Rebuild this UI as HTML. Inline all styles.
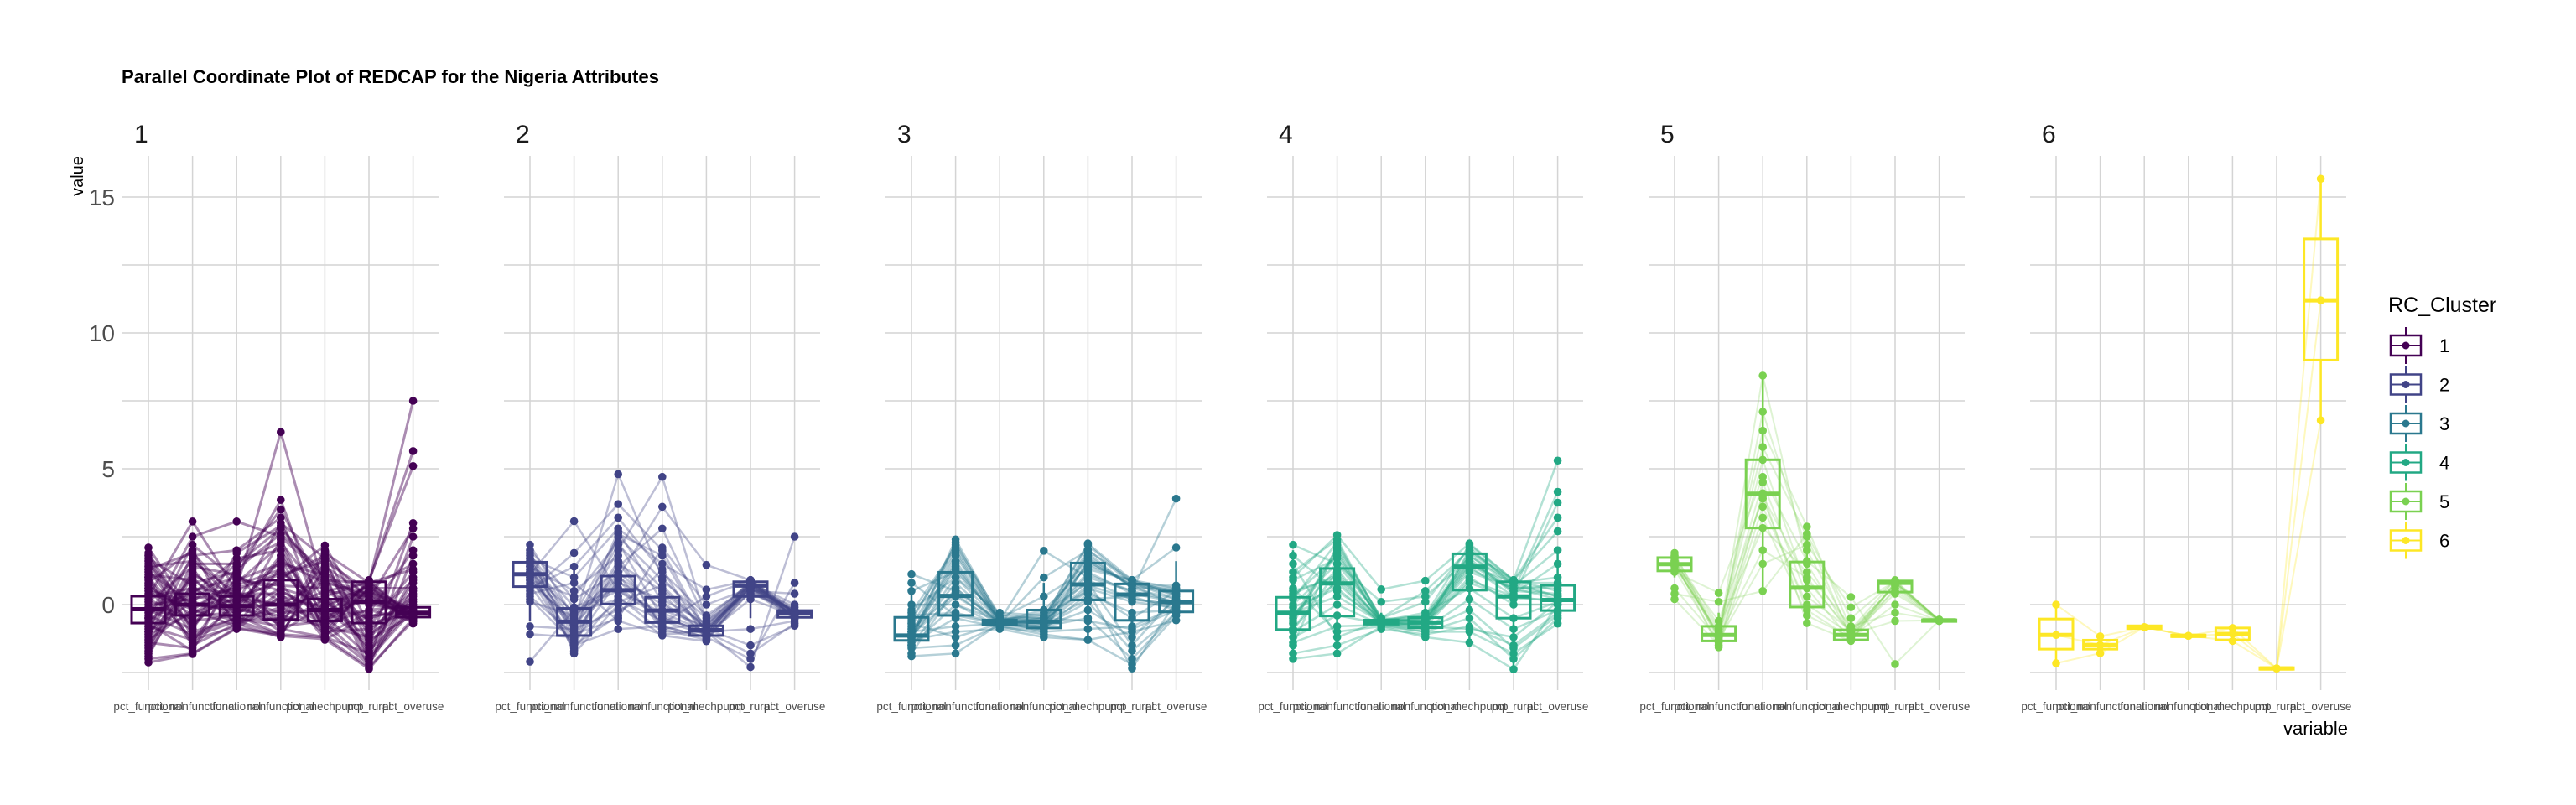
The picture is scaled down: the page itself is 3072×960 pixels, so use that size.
<!DOCTYPE html>
<html><head><meta charset="utf-8"><style>
body{margin:0;background:#fff;}
svg{display:block;font-family:"Liberation Sans",sans-serif;}
</style></head><body>
<svg id="chart" width="3072" height="960" viewBox="0 0 3072 960" xmlns="http://www.w3.org/2000/svg">
<rect width="3072" height="960" fill="#fff"/>
<text x="145" y="99" font-size="22" font-weight="bold" fill="#000" textLength="641" lengthAdjust="spacingAndGlyphs">Parallel Coordinate Plot of REDCAP for the Nigeria Attributes</text>
<text transform="translate(99,210) rotate(-90)" text-anchor="middle" font-size="20" fill="#000">value</text>
<text x="2800" y="876" text-anchor="end" font-size="22" fill="#000">variable</text>
<g id="panels"></g>
<g id="legend"></g>
</svg>
<script>
const variables = ["pct_functional","pct_nonfunctional","functional","nonfunctional","pct_mechpump","pct_rural","pct_overuse"];
const clusters = ["1","2","3","4","5","6"];
const colors = ["#440154","#414487","#2A788E","#22A884","#7AD151","#FDE725"];
const yTicks = [0,5,10,15];
const yTickLabels = ["0","5","10","15"];
const yMinor = [-2.5,2.5,7.5,12.5];

const lines1 = [
[2.1,-0.3,0.2,0.9,2.18,-0.7,-0.3],[-2.13,-1.82,-0.88,-1.15,-1.27,-2.37,-0.5],[-2.0,-1.8,-0.85,-1.1,-1.2,-2.3,-0.6],
[0.3,3.06,0.5,1.2,0.0,0.5,-0.2],[-0.5,2.5,3.06,2.5,1.0,0.2,-0.4],[0.0,0.2,0.6,6.35,0.5,0.3,-0.3],
[-1.0,0.5,1.0,3.85,-0.5,-0.2,0.0],[0.5,0.1,-0.3,0.2,-0.6,0.8,7.5],[-0.2,-0.5,0.3,0.0,0.3,0.84,5.65],
[1.2,0.0,-0.2,-0.4,-0.8,0.9,5.1],[1.8,-1.0,-0.5,-0.8,2.0,-1.5,3.0],[-1.5,1.5,1.5,2.8,1.0,-2.0,2.5],
[1.0,-0.8,0.8,2.2,-1.0,0.6,1.5],[-0.8,1.0,-0.6,-0.5,1.5,-1.0,0.5],[0.6,-1.3,0.0,1.6,0.8,0.4,-0.6],
[-1.8,0.8,1.2,-0.9,-1.2,-1.8,1.0],[1.5,-0.2,-0.8,0.5,-0.3,0.7,-0.7],[-0.3,0.3,0.1,-1.0,0.0,-0.5,-0.1],
[0.2,-0.6,-0.4,1.0,1.8,0.2,-0.4],[-1.2,1.8,2.0,3.2,-0.8,-1.2,0.2],[0.9,-1.5,-0.7,-0.2,0.5,0.8,-0.5],
[-0.6,0.6,0.4,0.4,-1.1,-0.3,2.0],[1.3,-0.9,1.3,2.6,1.2,0.0,-0.2],[-1.6,1.2,-0.1,-0.7,0.2,-1.6,0.8],
[0.4,-0.1,0.7,1.3,-0.5,0.5,-0.3],[-0.9,2.2,0.9,0.7,0.6,-0.8,1.2],[1.6,-1.2,-0.6,-1.1,1.4,0.3,-0.6],
[-0.1,0.4,1.7,2.0,-0.9,-2.2,0.4],[0.7,-0.4,-0.3,0.6,0.1,0.6,-0.2],[-1.4,-1.6,0.2,-0.3,-0.2,-1.4,0.1],
[1.1,0.9,-0.1,1.8,-0.4,-1.9,-0.1],[-1.1,-0.3,0.5,-0.6,0.9,0.1,-0.4],[0.1,1.4,1.1,0.1,-0.7,-2.1,0.6],
[1.9,-0.7,0.6,1.1,1.6,0.5,-0.5],[-0.4,-1.1,-0.5,2.4,-1.0,-0.9,0.3],
[-1.9,1.1,0.3,0.8,-1.3,-0.4,-0.3],[1.7,0.7,-0.7,-1.2,1.9,0.8,-0.4],[-0.7,-1.7,1.4,3.5,0.4,-1.7,-0.1],
[0.8,2.0,-0.9,0.3,-0.1,0.7,-0.6],[-1.3,-0.2,0.9,1.5,1.1,-2.3,1.8],[1.4,1.6,0.4,-0.8,-0.6,0.4,-0.3],
[-0.2,-0.9,1.9,2.9,0.7,-0.6,0.9],[0.3,0.6,-0.2,1.7,-1.2,0.9,-0.5],[-1.7,1.3,-0.4,-1.1,1.3,-1.1,0.0],
[1.0,-1.4,1.0,0.5,-0.4,0.2,2.8],[-0.5,1.7,0.0,3.0,1.7,-2.0,-0.2],[0.6,-0.2,-0.6,-0.1,-0.9,0.6,0.6],
[-1.0,0.1,1.5,2.3,0.2,-1.3,-0.4],[1.3,1.9,0.2,0.0,0.9,0.8,1.3],[-0.8,-1.3,-0.8,1.4,-0.7,-0.2,-0.6]
];
const lines2 = [
[2.2,-0.5,1.0,0.0,-0.9,0.7,-0.3],[-2.1,-0.2,0.5,-0.5,-1.0,0.6,-0.4],[1.1,3.07,0.5,-0.3,-1.0,0.8,-0.3],
[0.8,-0.6,4.8,1.0,-0.8,0.6,-0.2],[1.3,-0.8,2.0,4.7,-0.6,0.5,-0.4],[1.5,-1.0,1.0,3.6,1.46,0.9,-0.3],
[0.5,1.9,3.7,2.0,-1.0,-2.3,2.5],[1.9,-1.8,0.0,-1.14,-1.35,0.7,-0.3],[0.7,-1.5,-0.9,-0.8,-1.2,-2.0,0.8],
[1.7,1.0,2.8,1.5,0.55,0.9,-0.5],[-1.09,-1.2,1.5,0.5,-0.9,-1.5,-0.78],[1.2,-0.3,0.2,-0.6,-1.1,0.8,-0.3],
[0.9,-0.7,0.8,0.2,-0.7,0.4,-0.2],[1.4,0.5,1.8,-0.9,-1.3,0.7,-0.4],[0.3,-1.1,-0.5,2.1,0.0,0.6,-0.5],
[1.6,-0.4,2.5,0.9,-0.5,0.8,0.0],[1.0,-1.6,0.3,-1.0,-1.0,-0.9,-0.6],[2.0,0.2,1.2,-0.2,-0.8,0.9,-0.3],
[-0.8,-0.9,-0.2,0.4,-1.2,0.5,0.4],[0.6,1.4,3.2,1.2,-0.4,0.7,-0.1],[1.8,-0.1,0.6,-0.4,-1.1,0.2,-0.4],
[1.2,-1.3,1.4,2.8,-0.6,0.8,-0.3],[0.4,0.8,-0.6,-1.1,-1.0,-1.8,-0.7],[1.5,-0.6,2.2,0.6,-0.9,0.6,-0.2],
[0.2,-1.4,0.9,-0.7,0.3,0.9,-0.5],[1.3,-1.7,2.6,1.8,-1.1,0.7,-0.4],
[1.0,-0.9,1.6,-0.8,-1.2,0.8,-0.3],[1.7,-1.2,0.1,0.7,-0.9,0.6,-0.4],[0.9,0.3,2.3,-0.5,-1.0,0.9,-0.2],
[1.4,-1.5,-0.4,1.3,-1.3,0.5,-0.5],[0.1,-0.4,1.1,-0.9,-0.7,0.7,-0.3],[1.9,-1.0,2.7,0.1,-1.1,0.8,-0.4]
];
const lines3 = [
[1.12,0.5,-0.6,-0.6,1.5,0.8,0.2],[-1.9,-1.8,-0.7,-0.7,0.5,-2.35,0.1],[-1.2,2.4,-0.5,-0.5,2.25,0.9,0.4],
[-0.5,2.0,-0.6,1.98,1.0,0.5,3.9],[-1.0,1.5,-0.7,1.0,2.0,0.9,2.1],[-1.3,-1.0,-0.9,-1.2,-1.3,-1.0,-0.58],
[-0.2,1.0,-0.3,-0.4,0.5,-0.5,0.5],[-1.5,0.0,-0.8,-0.9,1.6,0.7,0.0],[-0.8,1.9,-0.6,-0.3,0.8,-1.5,0.3],
[-1.1,0.3,-0.65,-0.7,1.2,0.4,0.1],[-1.6,-1.5,-0.75,-0.8,-0.5,-2.0,-0.3],[0.5,1.2,-0.5,-0.6,2.0,0.8,0.5],
[-1.2,0.8,-0.7,-0.65,0.2,0.3,-0.2],[-0.6,2.2,-0.4,-0.5,1.8,0.6,0.6],[-1.4,-0.5,-0.85,-1.0,-0.9,-0.8,-0.1],
[-1.0,1.6,-0.6,-0.2,1.4,0.9,0.3],[0.0,0.0,-0.6,-0.6,0.9,0.2,0.0],[-1.8,0.6,-0.7,-0.8,-0.2,-1.2,0.2],
[-1.1,1.3,-0.55,-0.4,1.7,0.7,0.7],[-0.4,-0.3,-0.7,-0.9,0.4,-0.3,-0.2],[-1.3,2.3,-0.6,-0.5,2.2,0.8,0.4],
[-0.9,0.4,-0.8,-1.1,-1.3,-2.2,-0.4],[-1.2,1.0,-0.6,-0.7,1.1,0.5,0.1],[-0.7,-1.2,-0.7,-0.6,0.6,0.1,-0.1],
[-1.2,1.8,-0.6,-0.7,1.9,0.6,0.2],[-1.0,-0.8,-0.7,-0.8,0.1,-1.7,-0.3],[-0.3,2.1,-0.5,0.3,1.3,0.9,0.6],
[-1.5,0.6,-0.65,-0.6,0.7,0.2,0.0],[-1.1,1.4,-0.6,-1.0,1.6,0.7,0.4],[0.8,-0.4,-0.7,-0.5,-0.6,-0.9,-0.2]
];
const lines4 = [
[2.2,1.5,-0.5,-0.6,1.8,0.8,0.3],[-2.0,-1.8,-0.8,-1.2,-1.4,-2.38,0.0],[1.0,2.56,0.56,0.88,2.25,0.9,5.3],
[0.3,1.8,-0.6,-0.6,1.5,0.5,4.15],[-0.3,0.8,-0.7,-0.7,1.4,0.3,3.75],[-1.5,2.2,-0.5,0.5,2.0,0.9,2.7],
[0.6,-1.0,-0.8,-1.0,-1.0,-1.8,-0.7],[-0.9,1.2,-0.65,-0.7,1.2,0.6,0.2],[1.8,0.5,-0.6,-0.3,0.6,-0.5,0.1],
[-0.5,2.0,-0.7,-0.8,2.0,0.8,0.8],[-1.8,-1.5,-0.9,-1.1,-0.8,-1.5,-0.3],[0.0,1.5,0.1,0.3,1.7,0.4,1.5],
[-0.3,0.3,-0.65,-0.66,0.8,0.2,0.2],[1.2,2.4,-0.6,-0.5,1.9,0.9,0.5],[-1.2,-0.4,-0.7,-0.9,0.2,-0.9,-0.2],
[0.5,1.0,-0.6,-0.6,1.3,0.6,0.6],[-0.7,2.1,-0.5,0.1,2.1,0.7,2.0],[-1.0,0.0,-0.75,-1.0,-0.5,-2.0,-0.5],
[0.9,1.7,-0.6,-0.4,1.6,0.5,0.4],[-0.1,0.6,-0.7,-0.7,1.0,0.0,0.0],[1.5,-1.2,-0.6,-0.8,-0.9,-1.2,0.1],
[-0.4,1.3,-0.65,-0.5,1.45,0.8,1.0],
[-0.6,1.9,-0.6,-0.6,1.8,0.7,0.3],[-1.4,-0.8,-0.75,-0.9,-0.2,-1.6,-0.4],[0.2,2.3,-0.55,-0.4,2.2,0.9,3.2],
[-0.9,0.9,-0.7,-0.8,0.9,0.3,0.1],[0.4,1.1,-0.6,-0.55,1.6,0.6,0.7]
];
const lines5 = [
[1.9,-1.2,8.43,1.5,-1.1,0.8,-0.58],[1.7,-1.3,7.1,2.0,-1.0,0.7,-0.58],[1.5,-1.1,6.4,2.87,-0.9,0.9,-0.58],
[1.6,-0.9,5.8,2.5,-1.2,0.8,-0.58],[1.4,-1.0,5.33,0.6,-1.3,0.6,-0.6],[1.2,0.43,4.7,1.6,0.28,-2.19,-0.58],
[0.2,-1.5,4.1,-0.68,-1.34,0.8,-0.55],[1.5,-1.2,4.0,0.9,-1.0,0.5,-0.6],[0.4,0.1,0.5,2.6,-0.5,0.87,-0.58],
[1.3,-1.4,3.6,0.0,-1.1,-0.6,-0.58],[1.8,-0.8,2.82,1.2,-0.8,-0.3,-0.58],[1.6,-1.57,3.2,-0.4,-1.2,0.0,-0.6],
[1.45,-1.1,4.5,0.3,-0.95,0.7,-0.58],[0.6,-1.3,1.5,2.2,-0.1,0.85,-0.58],[1.55,-0.6,3.9,-0.2,-1.25,0.8,-0.58],
[1.75,-1.2,2.0,1.0,-1.1,0.4,-0.58]
];
const lines6 = [
[0.0,-1.17,-0.83,-1.15,-0.86,-2.35,15.67],[-1.12,-1.49,-0.83,-1.15,-1.08,-2.35,11.2],[-2.16,-1.79,-0.83,-1.15,-1.34,-2.35,6.78]
];
const boxQ1 = [[-0.68,-0.4,-0.4,-0.55,-0.6,-0.68,-0.46],[0.66,-1.14,0.02,-0.66,-1.14,0.3,-0.47],[-1.32,-0.4,-0.75,-0.86,0.17,-0.58,-0.27],[-0.92,-0.42,-0.72,-0.85,0.53,-0.5,-0.22],[1.24,-1.34,2.82,-0.09,-1.3,0.46,-0.6],[-1.64,-1.64,-0.88,-1.18,-1.3,-2.38,9.0]];
const boxMed = [[-0.17,0.0,-0.05,0.0,-0.2,0.1,-0.3],[1.12,-0.63,0.53,-0.22,-0.94,0.7,-0.32],[-1.14,0.32,-0.66,-0.63,0.74,0.37,0.09],[-0.3,0.78,-0.65,-0.66,1.4,0.3,0.17],[1.49,-1.12,4.08,0.62,-1.12,0.8,-0.58],[-1.12,-1.49,-0.83,-1.15,-1.08,-2.35,11.2]];
const boxQ3 = [[0.31,0.4,0.3,0.9,0.2,0.84,-0.1],[1.56,-0.14,1.05,0.27,-0.78,0.84,-0.22],[-0.47,1.19,-0.57,-0.2,1.53,0.76,0.5],[0.27,1.33,-0.57,-0.48,1.87,0.84,0.71],[1.73,-0.8,5.33,1.57,-0.93,0.87,-0.56],[-0.53,-1.31,-0.78,-1.12,-0.86,-2.32,13.46]];
const whiskLo = [[-2.1,-1.6,-0.88,-1.15,-1.27,-2.37,-0.72],[-0.6,-1.8,-0.9,-1.14,-1.35,-0.5,-0.6],[-1.9,-1.8,-0.88,-1.2,-1.3,-2.35,-0.58],[-2.0,-1.8,-0.88,-1.25,-1.4,-2.38,-0.73],[1.0,-1.57,0.5,-0.68,-1.34,0.3,-0.6],[-2.16,-1.79,-0.83,-1.15,-1.34,-2.35,6.78]];
const whiskHi = [[1.8,1.6,1.3,2.6,1.6,0.9,0.4],[2.2,1.3,2.6,1.6,-0.3,0.9,0.1],[0.8,2.4,-0.3,0.8,2.25,0.97,1.6],[2.0,2.56,-0.3,0.0,2.25,0.97,2.0],[1.9,-0.3,8.43,2.87,-0.5,0.87,-0.56],[0.0,-1.17,-0.83,-1.15,-0.86,-2.35,15.67]];
const allLines = [lines1,lines2,lines3,lines4,lines5,lines6];

const NS="http://www.w3.org/2000/svg";
const P0=146, PSTEP=455, PW=377, AX0=31, ASTEP=52.6, GTOP=186, GBOT=823;
function yScale(v){return 721-32.4*v;}
function xScale(p,i){return P0+p*PSTEP+AX0+i*ASTEP;}
function mk(tag,attrs,parent){const e=document.createElementNS(NS,tag);for(const k in attrs)e.setAttribute(k,attrs[k]);parent.appendChild(e);return e;}
const root=document.getElementById('panels');
const lineOp=[0.45,0.35,0.35,0.35,0.25,0.3];
const lineW=[3,2.5,2.5,2.5,2,2];
clusters.forEach((c,p)=>{
  const g=mk('g',{},root);
  
  
  const x0=P0+p*PSTEP;
  yMinor.concat(yTicks).forEach(v=>{
    const l=mk('line',{x1:x0,x2:x0+PW,y1:yScale(v),y2:yScale(v),stroke:'#d4d4d4','stroke-width':1.5},g);
    
    
  });
  variables.forEach((vn,i)=>{
    const l=mk('line',{x1:xScale(p,i),x2:xScale(p,i),y1:GTOP,y2:GBOT,stroke:'#d4d4d4','stroke-width':1.5},g);
    
    
    const t=mk('text',{x:xScale(p,i),y:847,'text-anchor':'middle','font-size':13.5,fill:'#4d4d4d'},g);
    t.textContent=vn;
    
    
  });
  const st=mk('text',{x:x0+14,y:170,'font-size':30,fill:'#1a1a1a'},g);
  st.textContent=c;
  
  
  const col=colors[p];
  allLines[p].forEach(row=>{
    const pts=row.map((v,i)=>xScale(p,i)+','+yScale(v)).join(' ');
    const pl=mk('polyline',{points:pts,fill:'none',stroke:col,'stroke-width':lineW[p],'stroke-opacity':lineOp[p]},g);
    
    
  });
  variables.forEach((vn,i)=>{
    const cx=xScale(p,i);
    const w1=mk('line',{x1:cx,x2:cx,y1:yScale(whiskHi[p][i]),y2:yScale(boxQ3[p][i]),stroke:col,'stroke-width':2.5},g);
    
    
    const w2=mk('line',{x1:cx,x2:cx,y1:yScale(boxQ1[p][i]),y2:yScale(whiskLo[p][i]),stroke:col,'stroke-width':2.5},g);
    
    
    const r=mk('rect',{x:cx-20,y:yScale(boxQ3[p][i]),width:40,height:Math.max(2,yScale(boxQ1[p][i])-yScale(boxQ3[p][i])),fill:'none',stroke:col,'stroke-width':3},g);
    
    
    const m=mk('line',{x1:cx-20,x2:cx+20,y1:yScale(boxMed[p][i]),y2:yScale(boxMed[p][i]),stroke:col,'stroke-width':5},g);
    
    
  });
  allLines[p].forEach(row=>{
    row.forEach((v,i)=>{
      const d=mk('circle',{cx:xScale(p,i),cy:yScale(v),r:4.8,fill:col},g);
      
      
    });
  });
  if(p===0){
    yTicks.forEach((v,k)=>{
      const t=mk('text',{x:137,y:yScale(v)+10,'text-anchor':'end','font-size':28,fill:'#4d4d4d'},g);
      t.textContent=yTickLabels[k];
      
      
    });
  }
});
const lg=document.getElementById('legend');
const lt=mk('text',{x:2848,y:372,'font-size':25,fill:'#000'},lg);
lt.textContent='RC_Cluster';


clusters.forEach((c,k)=>{
  const cy=412+46.5*k, col=colors[k];
  const g=mk('g',{},lg);
  
  
  mk('line',{x1:2869,x2:2869,y1:cy-22,y2:cy+22,stroke:col,'stroke-width':2},g);
  mk('rect',{x:2851,y:cy-12,width:36,height:24,fill:'#fff',stroke:col,'stroke-width':2.5},g);
  mk('line',{x1:2851,x2:2887,y1:cy,y2:cy,stroke:col,'stroke-width':2},g);
  mk('circle',{cx:2869,cy:cy,r:4.5,fill:col},g);
  const t=mk('text',{x:2909,y:cy+8,'font-size':22,fill:'#000'},g);
  t.textContent=c;
});
</script>
</body></html>
